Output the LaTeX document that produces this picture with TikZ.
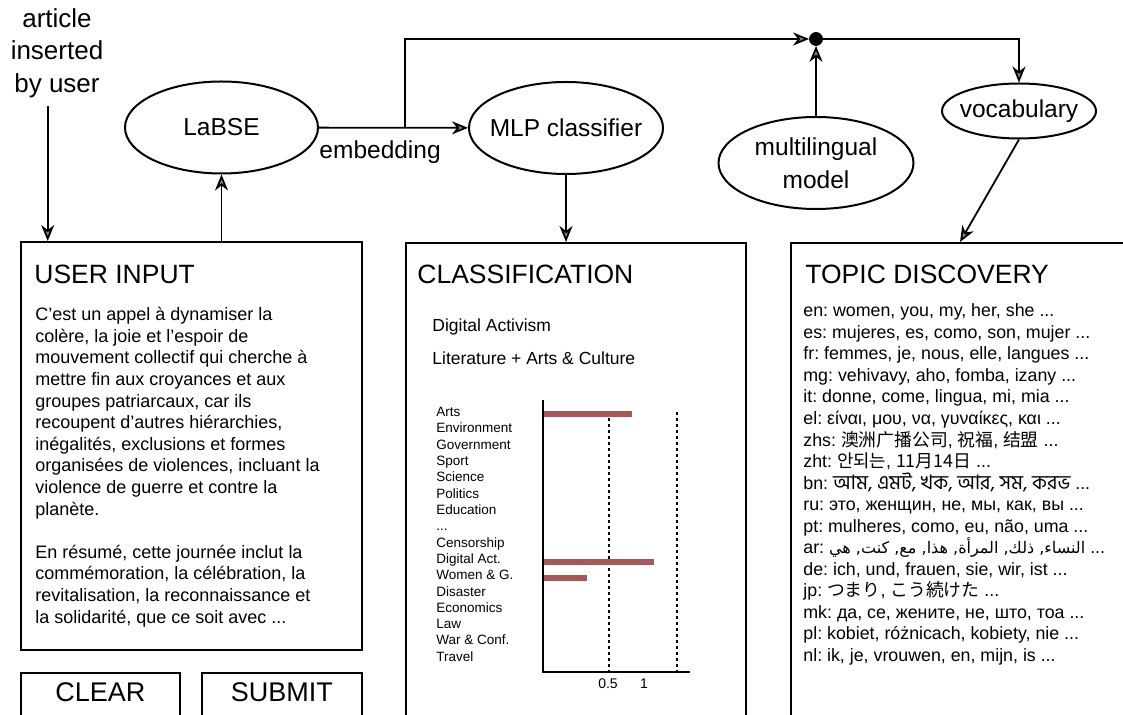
\documentclass[tikz,border=0pt]{standalone}
\usepackage{fontspec}
\setmainfont{Liberation Sans}
\newfontfamily\zhsfont{Noto Sans CJK SC}
\newfontfamily\kofont{Noto Sans CJK KR}
\newfontfamily\jpfont{Noto Sans CJK JP}
\newfontfamily\bengalifont[Script=Bengali,Scale=1.12]{Hind Siliguri}
\newfontfamily\arabicfont[Script=Arabic,Scale=0.9]{DejaVu Sans}
\TeXXeTstate=1
\frenchspacing
\usetikzlibrary{positioning}
\usetikzlibrary{calc}
\usetikzlibrary{shapes.geometric}
\usetikzlibrary{arrows.meta}
\definecolor{barred}{RGB}{168,88,88}
% Three plain full stops, kept out of the reach of \foreach
\newcommand\moredots{...}
\tikzset{
    % Hollow looking arrow head, close to the sketch
    >={Stealth[length=8pt, width=6.5pt, inset=2.5pt, fill=black!45]},
%
    % The models are plain ellipses, sized by hand
    model/.style={
        draw, ellipse, line width=1pt, inner xsep=-8pt, inner ysep=0pt,
        font=\fontsize{12.25}{16.5}\selectfont, align=center},
%
    % Large boxes of the interface
    panel/.style={
        draw, rectangle, line width=0.9pt, anchor=north west, inner sep=0pt},
    panel title/.style={
        anchor=base west, inner sep=0pt, font=\fontsize{13.25}{16}\selectfont},
%
    % Buttons under the input box
    button/.style={
        draw, rectangle, line width=0.9pt, anchor=north west,
        inner ysep=5pt, text depth=12pt, font=\fontsize{13.5}{16}\selectfont},
%
    % Small print inside the panels
    small text/.style={
        anchor=base west, inner sep=0pt, font=\fontsize{8.9}{10.8}\selectfont},
    chart label/.style={
        anchor=base west, inner sep=0pt, font=\fontsize{6.75}{8}\selectfont},
    score bar/.style={fill=barred},
    connector/.style={->, line width=0.9pt}}

\begin{document}
\begin{tikzpicture}[x=0.5pt, y=-0.5pt]
\useasboundingbox (0,0) rectangle (1123,715);
\clip (0,0) rectangle (1123,715);

% What the user types in
\node[align=center, anchor=north, inner sep=0pt,
    font=\fontsize{13}{16.25}\selectfont]
    (article) at (57,8) {article\\inserted\\by user};

\node[panel, minimum width=170.5pt, minimum height=204pt] (userinput) at (20,241) {};
\node[panel title] (userinput title) at (34,284) {USER INPUT};
\node[anchor=north west, inner sep=0pt, align=left,
    font=\fontsize{9}{10.8}\selectfont]
    (userinput text) at (35,307)
    {C’est un appel à dynamiser la\\
     colère, la joie et l’espoir de\\
     mouvement collectif qui cherche à\\
     mettre fin aux croyances et aux\\
     groupes patriarcaux, car ils\\
     recoupent d’autres hiérarchies,\\
     inégalités, exclusions et formes\\
     organisées de violences, incluant la\\
     violence de guerre et contre la\\
     planète.\\[10.8pt]
     En résumé, cette journée inclut la\\
     commémoration, la célébration, la\\
     revitalisation, la reconnaissance et\\
     la solidarité, que ce soit avec ...};

\node[button, minimum width=79.5pt] (clear) at (20,672) {CLEAR};
\node[button, minimum width=80pt] (submit) at (201,672) {SUBMIT};

\draw[connector] ([xshift=-4.65pt, yshift=-4pt]article.south)
    -- ([xshift=-4.65pt]article.south |- userinput.north);

% The models
\node[model, minimum width=96.5pt, minimum height=46pt] (labse) at (221.5,127.5) {LaBSE};
\node[model, minimum width=97pt, minimum height=46pt] (mlp) at (566,128) {MLP classifier};
\node[model, minimum width=97.5pt, minimum height=46pt] (multilingual) at (816,163)
    {multilingual\\model};
\node[model, minimum width=77pt, minimum height=27.5pt] (vocabulary) at (1019,111) {vocabulary};
\node[circle, draw, fill=black, inner sep=0pt, minimum size=6.5pt] (junction) at (816,39) {};
\coordinate (branch) at (405,0);

\draw[connector] (labse |- userinput.north) -- (labse);
\draw[connector] (labse) -- (mlp)
    node[pos=0.41, below=6pt, inner sep=0pt, font=\fontsize{12.25}{14}\selectfont]
    (embedding) {embedding};
\draw[connector] (branch |- labse) |- (junction);
\draw[connector] (multilingual) -- (junction);
\draw[connector] (junction) -| (vocabulary);

% Classification panel with its little bar chart
\node[panel, minimum width=170pt, minimum height=260pt] (classification) at (405,242) {};
\node[panel title] (classification title) at (417,284) {CLASSIFICATION};
\node[small text, font=\fontsize{8.75}{10}\selectfont] (class one) at (432,332) {Digital Activism};
\node[small text, font=\fontsize{8.75}{10}\selectfont] (class two) at (432,365)
    {Literature + Arts \& Culture};

\draw[connector] (mlp) -- (mlp |- classification.north);

\foreach \category [count=\i from 0] in {Arts, Environment, Government, Sport, Science,
    Politics, Education, \moredots, Censorship, Digital Act., Women \& G., Disaster,
    Economics, Law, War \& Conf., Travel}
    \node[chart label] (category \i) at (436,416.7+16.3*\i) {\category};

\draw[dash pattern=on 1.5pt off 1.5pt, line width=0.6pt] (609,412) -- (609,672);
\draw[dash pattern=on 1.5pt off 1.5pt, line width=0.6pt] (677,412) -- (677,672);
\fill[score bar] (543,411) rectangle (632,417);
\fill[score bar] (543,559) rectangle (654,565);
\fill[score bar] (543,575) rectangle (587,581);
\draw[line width=1.2pt] (543,400) -- (543,672) -- (690,672);
\node[chart label, anchor=base, font=\fontsize{7}{8}\selectfont] (tick half) at (608,688) {0.5};
\node[chart label, anchor=base, font=\fontsize{7}{8}\selectfont] (tick one) at (644,688) {1};

% Topic discovery panel
\node[panel, minimum width=200pt, minimum height=260pt] (topics) at (790,242) {};
\node[panel title] (topics title) at (805,284) {TOPIC DISCOVERY};

\draw[connector] (vocabulary.south) -- ([xshift=85pt]topics.north west);

\foreach \entry [count=\i from 0] in {
    {en: women, you, my, her, she \moredots},
    {es: mujeres, es, como, son, mujer \moredots},
    {fr: femmes, je, nous, elle, langues \moredots},
    {mg: vehivavy, aho, fomba, izany \moredots},
    {it: donne, come, lingua, mi, mia \moredots},
    {el: είναι, μου, να, γυναίκες, και \moredots},
    {zhs: {\zhsfont 澳洲广播公司}, {\zhsfont 祝福}, {\zhsfont 结盟} \moredots},
    {zht: {\kofont 안되는}, {\kofont 11月14日} \moredots},
    {bn: {\bengalifont আম, এমট, খক, আর, সম, করভ} \moredots},
    {ru: это, женщин, не, мы, как, вы \moredots},
    {pt: mulheres, como, eu, não, uma \moredots},
    {ar: {\arabicfont\beginR النساء, ذلك, المرأة, هذا, مع, كنت, هي\endR} \moredots},
    {de: ich, und, frauen, sie, wir, ist \moredots},
    {jp: {\jpfont つまり}, {\jpfont こう続けた} \moredots},
    {mk: да, се, жените, не, што, тоа \moredots},
    {pl: kobiet, różnicach, kobiety, nie \moredots},
    {nl: ik, je, vrouwen, en, mijn, is \moredots}}
    \node[small text] (topic \i) at (803,317+21.5*\i) {\entry};

\end{tikzpicture}
\end{document}
